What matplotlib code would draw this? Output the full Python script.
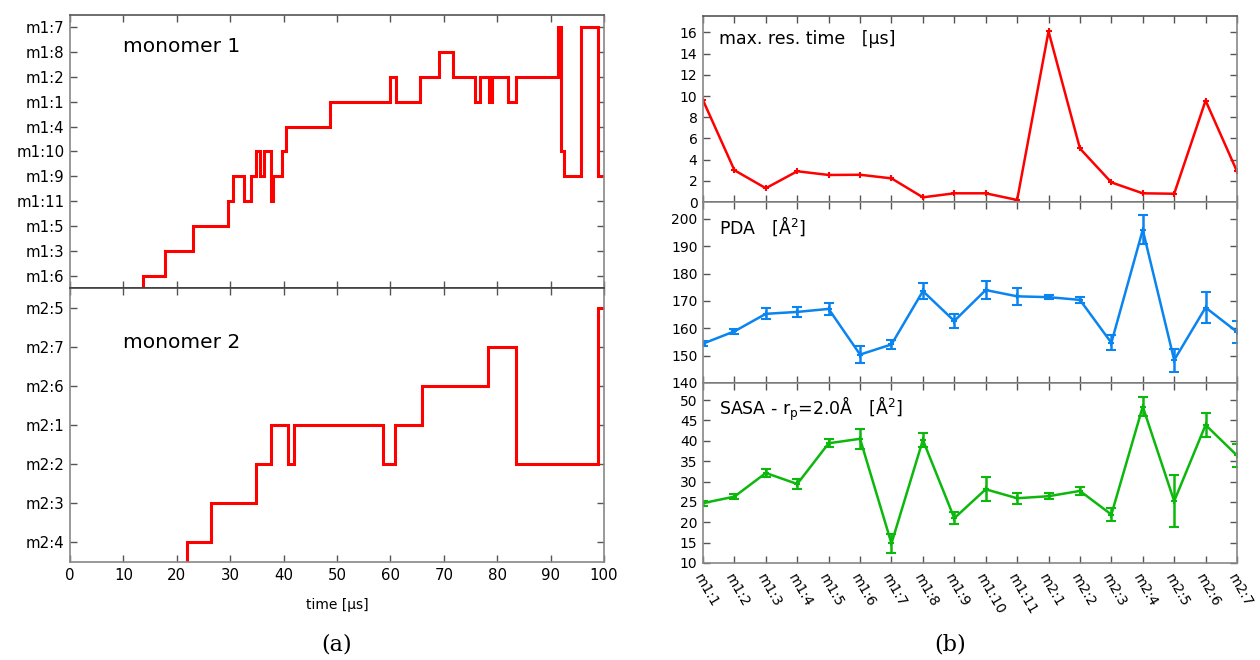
import matplotlib
matplotlib.use("Agg")
import matplotlib.pyplot as plt
import numpy as np

plt.rcParams['font.family'] = ['DejaVu Sans']

# ---------------- data: left panels (binding trajectories) ----------------
m1_labels = ['m1:6', 'm1:3', 'm1:5', 'm1:11', 'm1:9', 'm1:10', 'm1:4',
             'm1:1', 'm1:2', 'm1:8', 'm1:7']
m1_times = [0.0, 13.6, 17.8, 23.0, 29.6, 30.5, 32.5, 33.9, 34.8, 35.6, 36.3,
            37.6, 38.0, 39.7, 40.5, 48.6, 59.9, 61.1, 65.5, 69.1, 71.7, 75.8,
            76.7, 78.5, 79.1, 82.1, 83.6, 91.3, 91.9, 92.5, 95.7, 98.8, 100.0]
m1_states = ['off', 'm1:6', 'm1:3', 'm1:5', 'm1:11', 'm1:9', 'm1:11', 'm1:9',
             'm1:10', 'm1:9', 'm1:10', 'm1:11', 'm1:9', 'm1:10', 'm1:4', 'm1:1',
             'm1:2', 'm1:1', 'm1:2', 'm1:8', 'm1:2', 'm1:1', 'm1:2', 'm1:1',
             'm1:2', 'm1:1', 'm1:2', 'm1:7', 'm1:10', 'm1:9', 'm1:7', 'm1:9',
             'm1:9']

m2_labels = ['m2:4', 'm2:3', 'm2:2', 'm2:1', 'm2:6', 'm2:7', 'm2:5']
m2_times = [0.0, 21.9, 26.4, 34.8, 37.6, 40.9, 42.0, 58.7, 60.8, 66.0, 78.2,
            83.5, 98.8, 100.0]
m2_states = ['off', 'm2:4', 'm2:3', 'm2:2', 'm2:1', 'm2:2', 'm2:1', 'm2:2',
             'm2:1', 'm2:6', 'm2:7', 'm2:2', 'm2:5', 'm2:5']

time_ticks = [0, 10, 20, 30, 40, 50, 60, 70, 80, 90, 100]

# ---------------- data: right panels (per-site properties) ----------------
sites = ['m1:1', 'm1:2', 'm1:3', 'm1:4', 'm1:5', 'm1:6', 'm1:7', 'm1:8',
         'm1:9', 'm1:10', 'm1:11', 'm2:1', 'm2:2', 'm2:3', 'm2:4', 'm2:5',
         'm2:6', 'm2:7']
max_res_time = [9.6, 3.0, 1.3, 2.9, 2.55, 2.57, 2.23, 0.44, 0.82, 0.82, 0.19,
                16.1, 5.05, 1.85, 0.82, 0.78, 9.57, 2.89]
pda = [154.4, 158.9, 165.3, 166.0, 167.1, 150.4, 154.1, 173.6, 162.7, 174.0,
       171.7, 171.4, 170.4, 154.7, 196.0, 148.4, 167.6, 158.7]
pda_err = [0.8, 1.0, 2.0, 1.9, 2.1, 3.0, 1.8, 2.9, 2.6, 3.2, 3.2, 0.7, 1.0,
           2.8, 5.3, 4.2, 5.5, 4.0]
sasa = [24.7, 26.3, 32.1, 29.4, 39.4, 40.5, 14.8, 40.2, 21.0, 28.1, 25.9,
        26.4, 27.7, 21.9, 48.4, 25.2, 43.9, 36.4]
sasa_err = [0.6, 0.7, 1.1, 1.2, 1.0, 2.4, 2.3, 1.8, 1.5, 2.9, 1.4, 0.8, 0.9,
            1.5, 2.3, 6.3, 3.0, 2.8]

# ---------------- figure ----------------
W, H = 1260, 660
fig = plt.figure(figsize=(W / 100, H / 100), dpi=100)


def box(x0, y0, x1, y1):
    return [x0 / W, 1 - y1 / H, (x1 - x0) / W, (y1 - y0) / H]


RED = '#ff0000'
BLUE = '#0a84ee'
GREEN = '#0cb80c'
SPINE = '#888888'
DARK = '#404040'
TICKC = '#555555'


def style_ax(ax, size):
    for s in ax.spines.values():
        s.set_color(SPINE)
        s.set_linewidth(1.2)
    ax.tick_params(direction='in', length=5, width=1, color=TICKC,
                   labelsize=size, top=True, right=True, pad=4)


# ---- left: monomer trajectories ----
ax1 = fig.add_axes(box(70, 15, 604, 288))
ax2 = fig.add_axes(box(70, 288, 604, 562))

for ax, labels, times, states, name, ty in [
        (ax1, m1_labels, m1_times, m1_states, 'monomer 1', 0.883),
        (ax2, m2_labels, m2_times, m2_states, 'monomer 2', 0.80)]:
    idx = {lab: i for i, lab in enumerate(labels)}
    idx['off'] = -5
    yv = [idx[s] for s in states]
    ax.step(times, yv, where='post', color=RED, lw=2.2, solid_joinstyle='miter')
    ax.set_xlim(0, 100)
    ax.set_ylim(-0.5, len(labels) - 0.5)
    ax.set_yticks(range(len(labels)))
    ax.set_yticklabels(labels)
    ax.set_xticks(time_ticks)
    style_ax(ax, 10.8)
    ax.text(0.10, ty, name, transform=ax.transAxes,
            fontsize=14.5, va='center', ha='left')

ax1.tick_params(labelbottom=False)
ax1.spines['bottom'].set_color(DARK)
ax2.spines['top'].set_color(DARK)
ax1.spines['top'].set_color('#555555')
ax2.set_xlabel('time [µs]', fontsize=10, labelpad=11)

# ---- right: per-site properties ----
x = np.arange(len(sites))
axa = fig.add_axes(box(703, 16, 1237, 202))
axb = fig.add_axes(box(703, 202, 1237, 383))
axc = fig.add_axes(box(703, 383, 1237, 563))

axa.plot(x, max_res_time, color=RED, lw=1.8, marker='+', ms=5, mew=1.5)
axa.set_ylim(0, 17.55)
axa.set_yticks([0, 2, 4, 6, 8, 10, 12, 14, 16])

axb.errorbar(x, pda, yerr=pda_err, color=BLUE, lw=1.8, marker='+', ms=5,
             mew=1.5, capsize=3.5, elinewidth=1.8, capthick=1.8)
axb.set_ylim(140, 206.2)
axb.set_yticks([140, 150, 160, 170, 180, 190, 200])

axc.errorbar(x, sasa, yerr=sasa_err, color=GREEN, lw=1.8, marker='+', ms=5,
             mew=1.5, capsize=3.5, elinewidth=1.8, capthick=1.8)
axc.set_ylim(10, 54.2)
axc.set_yticks([10, 15, 20, 25, 30, 35, 40, 45, 50])

for ax in (axa, axb, axc):
    ax.set_xlim(x[0], x[-1])
    ax.set_xticks(x)
    style_ax(ax, 10)
for ax in (axa, axb):
    ax.tick_params(labelbottom=False)
    ax.spines['bottom'].set_color(DARK)
    ax.spines['bottom'].set_linewidth(1.4)
axc.set_xticklabels(sites, rotation=-60, ha='left', va='top',
                    rotation_mode='anchor', fontsize=10)
axc.tick_params(axis='x', pad=6)
axa.spines['top'].set_color('#555555')

axa.text(0.03, 0.876, 'max. res. time   [µs]', transform=axa.transAxes,
         fontsize=12.5, va='center', ha='left')
axb.text(0.03, 0.867, 'PDA   [Å$^2$]', transform=axb.transAxes,
         fontsize=12.5, va='center', ha='left')
axc.text(0.03, 0.856, 'SASA - r$_\\mathregular{p}$=2.0Å   [Å$^2$]',
         transform=axc.transAxes, fontsize=12.5, va='center', ha='left')

# ---- captions ----
fig.text(337 / W, 1 - 645 / H, '(a)', fontsize=16, family='DejaVu Serif',
         ha='center', va='center')
fig.text(950 / W, 1 - 645 / H, '(b)', fontsize=16, family='DejaVu Serif',
         ha='center', va='center')

fig.savefig('out.png', dpi=100)
